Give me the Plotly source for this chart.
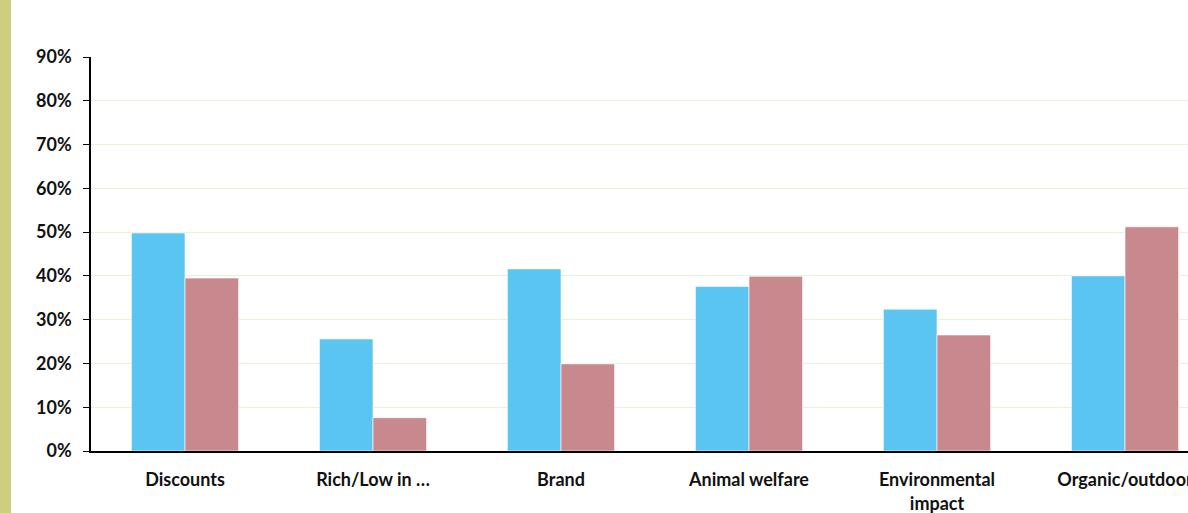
import plotly.graph_objects as go

categories = ["Discounts", "Rich/Low in …", "Brand", "Animal welfare", "Environmental<br>impact", "Organic/outdoor"]
series_blue = [0.498, 0.256, 0.416, 0.376, 0.324, 0.400]
series_red = [0.395, 0.076, 0.199, 0.399, 0.265, 0.512]
y_ticks = [0, 0.1, 0.2, 0.3, 0.4, 0.5, 0.6, 0.7, 0.8, 0.9]

W, H = 1188, 513
L, R, T, B = 91, 0, 57, 62
pw, ph = W - L - R, H - T - B

fig = go.Figure()
fig.add_trace(go.Bar(x=categories, y=series_blue, name="A",
                     marker=dict(color="#5BC5F2", line=dict(color="rgba(255,255,255,0.6)", width=1))))
fig.add_trace(go.Bar(x=categories, y=series_red, name="B",
                     marker=dict(color="#C7888E", line=dict(color="rgba(255,255,255,0.6)", width=1))))

fig.update_layout(
    width=W, height=H,
    margin=dict(l=L, r=R, t=T, b=B, autoexpand=False),
    paper_bgcolor="white", plot_bgcolor="white",
    showlegend=False,
    barmode="group", bargap=0.43, bargroupgap=0,
    font=dict(family="Lato", size=18, color="#000000"),
    xaxis=dict(range=[-0.5, 5.335], showline=True, linecolor="#000000", linewidth=1.5,
               ticks="", showgrid=False, automargin=False, ticklabelstandoff=12,
               tickfont=dict(family="Lato", size=18, weight="bold", color="#111111")),
    yaxis=dict(range=[0, 0.9], tickvals=y_ticks, tickformat=".0%", showline=True,
               linecolor="#000000", linewidth=1.5, ticks="outside", ticklen=6,
               tickcolor="#000000", showgrid=True, gridcolor="#E6F2DA", gridwidth=1,
               zeroline=False, automargin=False, ticklabelstandoff=8,
               tickfont=dict(family="Lato", size=18, weight="bold", color="#111111")),
    shapes=[dict(type="rect", xref="paper", yref="paper",
                 x0=-L / pw, x1=(11 - L) / pw, y0=-2, y1=3,
                 fillcolor="#CCCF80", line=dict(width=0), layer="above")],
)

fig.write_html("out.html", config={"displayModeBar": False},
               post_script="document.body.style.margin='0px';document.body.style.overflow='hidden';")
